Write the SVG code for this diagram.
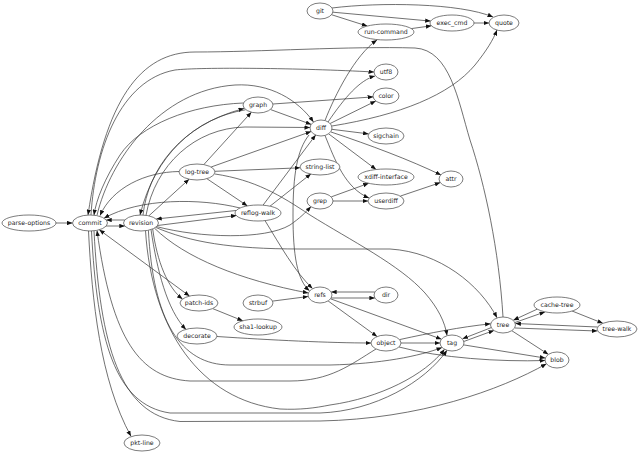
<svg xmlns="http://www.w3.org/2000/svg" width="640" height="463" viewBox="0 0 640 463">
<defs>
<style>
.e{fill:none;stroke:#333;stroke-width:0.7;marker-end:url(#a)}
.b{marker-start:url(#s)}
.n{opacity:0.99}
.n ellipse{fill:#fff;stroke:#444;stroke-width:0.7}
.n text{font-family:"DejaVu Sans",sans-serif;font-size:6.2px;fill:#222;text-anchor:middle}
</style>
<marker id="a" viewBox="0 0 10 8" refX="10" refY="4" markerWidth="5.5" markerHeight="4.4" markerUnits="userSpaceOnUse" orient="auto"><path d="M0,0 L10,4 L0,8 z" fill="#111"/></marker>
<marker id="s" viewBox="0 0 10 8" refX="0" refY="4" markerWidth="5.5" markerHeight="4.4" markerUnits="userSpaceOnUse" orient="auto"><path d="M10,0 L0,4 L10,8 z" fill="#111"/></marker>
</defs>
<rect width="640" height="463" fill="#fff"/>
<g id="edges">
<path class="e" d="M332,8 C380,2 460,3 493,17"/>
<path class="e" d="M332.9,12.2 L430.7,21.1"/>
<path class="e" d="M331.5,14.7 L367.3,26.1"/>
<path class="e" d="M411.3,28.6 L431.4,25.8"/>
<path class="e" d="M474,23 L489,23"/>
<path class="e" d="M325,120.5 C335,95 355,55 377,40"/>
<path class="e" d="M328,122 C345,97 360,80 375,76"/>
<path class="e" d="M330.1,123.5 L375.8,101"/>
<path class="e" d="M332,126 C400,115 450,95 475,65 C487,50 493,40 497,30"/>
<path class="e" d="M331.8,129.3 L368.6,133.9"/>
<path class="e" d="M328.6,133.8 L376.1,169.5"/>
<path class="e" d="M325,135.5 C335,160 345,188 369,198"/>
<path class="e" d="M331,132 C370,145 410,160 441,175"/>
<path class="e" d="M309,135 C297,150 293,175 293,215 C293,255 297,280 309.5,290.8"/>
<path class="e" d="M270.4,109.5 L311.2,124.4"/>
<path class="e" d="M272.9,104 L373.1,96.9"/>
<path class="e" d="M243.5,103 C190,105 140,125 120,155 C105,178 96,200 94,215.1"/>
<path class="e" d="M143,215.1 C148,170 180,125 244,108.5"/>
<path class="e" d="M245.5,109.8 C195,118 155,155 140,215"/>
<path class="e" d="M203.8,164.6 L251.4,112.2"/>
<path class="e" d="M211.1,167 L311.1,131.5"/>
<path class="e" d="M214.9,171.3 L300.1,167.8"/>
<path class="e" d="M206.9,178.7 L247.4,205.9"/>
<path class="e" d="M179,171.5 C145,172 112,188 100,215.6"/>
<path class="e" d="M215,174 C255,180 280,195 310,215 C350,240 400,265 425,293 C438,308 445,322 447,335.5"/>
<path class="e" d="M148.9,215.8 L189.1,179.2"/>
<path class="e" d="M146,215.4 C155,165 195,128 245,127 L310,127.5"/>
<path class="e" d="M97,215.3 C110,160 160,90 235,85 C270,83 298,100 313.5,122"/>
<path class="e" d="M91,215 C95,150 120,80 175,70 C200,67 300,68 374,72"/>
<path class="e" d="M503,317 C499,250 485,185 470,140 C458,100 450,50 415,48 C350,46 260,52 195,52 C140,52 105,100 88,215"/>
<path class="e" d="M56,223 L72.5,223"/>
<path class="e" d="M124.8,220 L106.2,220"/>
<path class="e" d="M106.2,226 L124.8,226"/>
<path class="e" d="M236,210.5 L156.2,219"/>
<path class="e" d="M157.6,225.5 L236.5,215.5"/>
<path class="e" d="M240,208 C200,198 140,198 104,218.2"/>
<path class="e" d="M263,205.2 L315.7,135"/>
<path class="e" d="M270,206.2 L310.9,173.9"/>
<path class="e" d="M265,220.6 C280,245 295,272 312.5,288.5"/>
<path class="e" d="M156.6,226.6 C200,238 265,240 290,225 C300,218 305,213 311,206.5"/>
<path class="e" d="M155.7,227.4 C190,242 230,249 300,249 L390,249 C440,252 480,285 497,317.7"/>
<path class="e" d="M154.4,228.1 C185,258 240,280 308.3,293"/>
<path class="e" d="M152.7,228.9 C157,262 168,288 182.5,299"/>
<path class="e" d="M151,229.6 C157,270 167,310 186,329.5"/>
<path class="e" d="M148.4,230.3 C153,320 180,365 230,365 L330,365 C380,364 420,356 442,347.5"/>
<path class="e" d="M145.5,230.7 C152,330 200,400 280,409 C300,410 315,408 330,405 C380,398 425,375 444.5,349.3"/>
<path class="e b" d="M99.3,229.8 L189.5,296.1"/>
<path class="e" d="M88.5,231 C92,300 100,380 131,436.3"/>
<path class="e" d="M91.5,231 C97,340 115,405 170,413 L320,413 C375,411 425,382 447,350.3"/>
<path class="e" d="M94,230.8 C100,345 120,415 180,421.5 L320,421 C420,419 500,390 546.5,363.8"/>
<path class="e" d="M376,349 C350,365 330,381 290,381 L190,381 C140,378 112,340 97,230.5"/>
<path class="e" d="M212.7,308.6 L242.8,320.8"/>
<path class="e" d="M272.6,301.1 L308.2,296.5"/>
<path class="e" d="M374.9,292 L331.1,292"/>
<path class="e" d="M331.1,298 L374.9,298"/>
<path class="e" d="M328.1,300.9 L377.1,336.6"/>
<path class="e" d="M330.5,298.8 L441.5,339.2"/>
<path class="e" d="M217,336.5 C270,340 330,343 371,343"/>
<path class="e" d="M401,343 L440,343"/>
<path class="e" d="M400,339.5 C430,333 460,327 490.6,323.8"/>
<path class="e" d="M399,347 C440,358 500,362 545,360.5"/>
<path class="e" d="M491.5,327.5 L462.5,338.8"/>
<path class="e" d="M463.8,341.5 L494,330.4"/>
<path class="e" d="M463.7,344.9 L545.3,358.1"/>
<path class="e" d="M511.8,330.7 L548.4,354.4"/>
<path class="e" d="M537.5,309 L513.3,320.2"/>
<path class="e" d="M515,322.5 L545,311.9"/>
<path class="e" d="M572.1,311 L602.9,323.3"/>
<path class="e" d="M597.5,327 L515.4,323.5"/>
<path class="e" d="M515,328 L597.3,331"/>
<path class="e" d="M331.2,196.9 L368.7,183.3"/>
<path class="e" d="M333,201 L368,201"/>
<path class="e" d="M400.3,196.1 L440.3,182.6"/>
</g>
<g id="n-git" class="n"><ellipse cx="320" cy="11" rx="13" ry="8"/><text x="320" y="13.2">git</text></g>
<g id="n-run-command" class="n"><ellipse cx="386" cy="32" rx="28" ry="8"/><text x="386" y="34.2">run-command</text></g>
<g id="n-exec_cmd" class="n"><ellipse cx="452" cy="23" rx="22" ry="8"/><text x="452" y="25.2">exec_cmd</text></g>
<g id="n-quote" class="n"><ellipse cx="504" cy="23" rx="15" ry="8"/><text x="504" y="25.2">quote</text></g>
<g id="n-utf8" class="n"><ellipse cx="386" cy="72" rx="12" ry="8"/><text x="386" y="74.2">utf8</text></g>
<g id="n-color" class="n"><ellipse cx="386" cy="96" rx="13" ry="8"/><text x="386" y="98.2">color</text></g>
<g id="n-diff" class="n"><ellipse cx="321" cy="128" rx="11" ry="8"/><text x="321" y="130.2">diff</text></g>
<g id="n-sigchain" class="n"><ellipse cx="386" cy="136" rx="18" ry="8"/><text x="386" y="138.2">sigchain</text></g>
<g id="n-string-list" class="n"><ellipse cx="320" cy="167" rx="20" ry="8"/><text x="320" y="169.2">string-list</text></g>
<g id="n-xdiff-interface" class="n"><ellipse cx="386" cy="177" rx="28" ry="8"/><text x="386" y="179.2">xdiff-interface</text></g>
<g id="n-attr" class="n"><ellipse cx="451" cy="179" rx="12" ry="8"/><text x="451" y="181.2">attr</text></g>
<g id="n-grep" class="n"><ellipse cx="320" cy="201" rx="13" ry="8"/><text x="320" y="203.2">grep</text></g>
<g id="n-userdiff" class="n"><ellipse cx="386" cy="201" rx="18" ry="8"/><text x="386" y="203.2">userdiff</text></g>
<g id="n-graph" class="n"><ellipse cx="258" cy="105" rx="15" ry="8"/><text x="258" y="107.2">graph</text></g>
<g id="n-log-tree" class="n"><ellipse cx="197" cy="172" rx="18" ry="8"/><text x="197" y="174.2">log-tree</text></g>
<g id="n-parse-options" class="n"><ellipse cx="29" cy="223" rx="27" ry="8"/><text x="29" y="225.2">parse-options</text></g>
<g id="n-commit" class="n"><ellipse cx="90" cy="223" rx="17.5" ry="8"/><text x="90" y="225.2">commit</text></g>
<g id="n-revision" class="n"><ellipse cx="141" cy="223" rx="17.5" ry="8"/><text x="141" y="225.2">revision</text></g>
<g id="n-reflog-walk" class="n"><ellipse cx="258" cy="213" rx="23" ry="8"/><text x="258" y="215.2">reflog-walk</text></g>
<g id="n-patch-ids" class="n"><ellipse cx="199" cy="303" rx="19" ry="8"/><text x="199" y="305.2">patch-ids</text></g>
<g id="n-strbuf" class="n"><ellipse cx="258" cy="303" rx="15" ry="8"/><text x="258" y="305.2">strbuf</text></g>
<g id="n-sha1-lookup" class="n"><ellipse cx="258" cy="327" rx="24" ry="8"/><text x="258" y="329.2">sha1-lookup</text></g>
<g id="n-decorate" class="n"><ellipse cx="197" cy="336" rx="20" ry="8"/><text x="197" y="338.2">decorate</text></g>
<g id="n-refs" class="n"><ellipse cx="320" cy="295" rx="12" ry="8"/><text x="320" y="297.2">refs</text></g>
<g id="n-dir" class="n"><ellipse cx="386" cy="295" rx="12" ry="8"/><text x="386" y="297.2">dir</text></g>
<g id="n-cache-tree" class="n"><ellipse cx="557" cy="305" rx="23" ry="8"/><text x="557" y="307.2">cache-tree</text></g>
<g id="n-tree-walk" class="n"><ellipse cx="617" cy="329" rx="20" ry="8"/><text x="617" y="331.2">tree-walk</text></g>
<g id="n-tree" class="n"><ellipse cx="503" cy="325" rx="12.5" ry="8"/><text x="503" y="327.2">tree</text></g>
<g id="n-tag" class="n"><ellipse cx="452" cy="343" rx="12" ry="8"/><text x="452" y="345.2">tag</text></g>
<g id="n-object" class="n"><ellipse cx="386" cy="343" rx="15" ry="8"/><text x="386" y="345.2">object</text></g>
<g id="n-blob" class="n"><ellipse cx="557" cy="360" rx="12" ry="8"/><text x="557" y="362.2">blob</text></g>
<g id="n-pkt-line" class="n"><ellipse cx="142" cy="443" rx="18" ry="8"/><text x="142" y="445.2">pkt-line</text></g>
</svg>
